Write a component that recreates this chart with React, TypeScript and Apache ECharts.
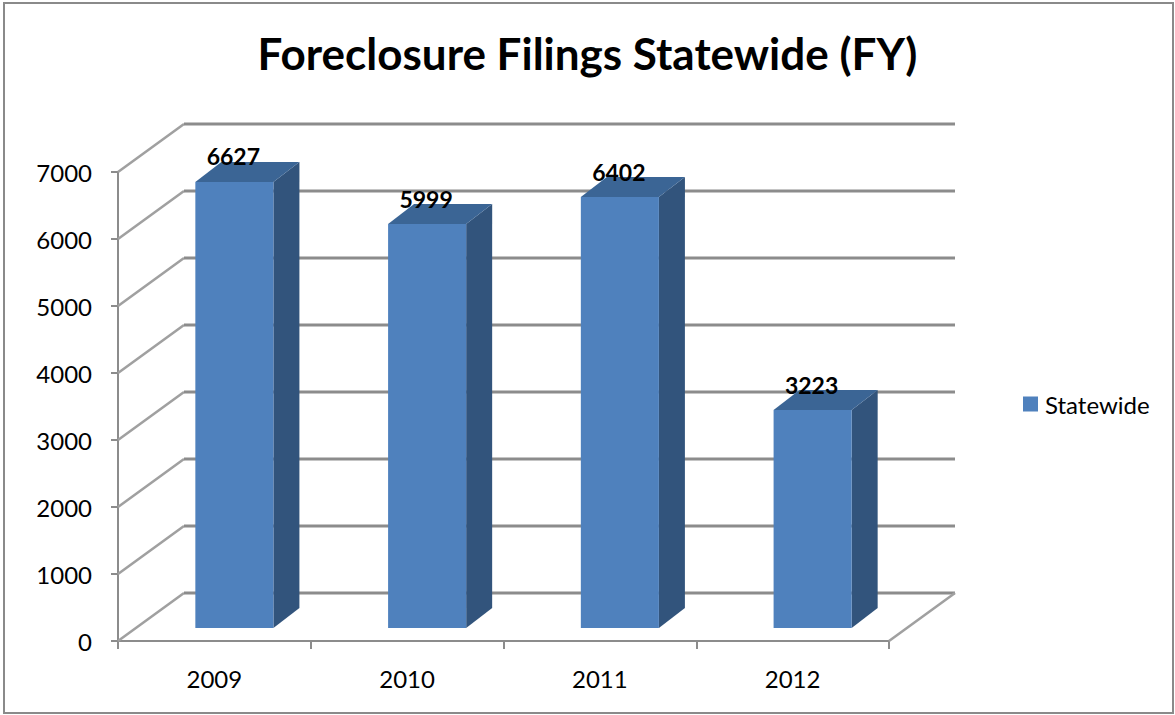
import React, { useEffect, useRef } from "react";
import * as echarts from "echarts";

const categories = ["2009", "2010", "2011", "2012"];
const values = [6627, 5999, 6402, 3223];
const yTicks = [0, 1000, 2000, 3000, 4000, 5000, 6000, 7000];
const seriesName = "Statewide";
const titleText = "Foreclosure Filings Statewide (FY)";

// 3D projection constants (layout only)
const DX = 66;
const DY = -48;
const BAR_OX = 20;
const BAR_OY = -13;
const SIDE_DX = 26;
const SIDE_DY = -20;
const FONT = "Lato, 'Open Sans', sans-serif";

export default function App() {
  const ref = useRef<HTMLDivElement>(null);
  useEffect(() => {
    if (!ref.current) return;
    const chart = echarts.init(ref.current, null, { renderer: "svg" });
    const option: any = {
      animation: false,
      backgroundColor: "#ffffff",
      title: {
        text: titleText,
        left: "center",
        top: 26,
        textStyle: { fontFamily: FONT, fontSize: 44, fontWeight: "bold", color: "#000" },
      },
      legend: {
        data: [seriesName],
        left: 1018,
        top: 387,
        icon: "rect",
        itemWidth: 15,
        itemHeight: 15,
        itemGap: 7,
        textStyle: { fontFamily: FONT, fontSize: 24, color: "#000", padding: [0, 0, 0, 2] },
      },
      graphic: [
        {
          type: "rect",
          shape: { x: 4, y: 3, width: 1169, height: 710 },
          style: { fill: "none", stroke: "#8a8a8a", lineWidth: 2 },
          silent: true,
          z: -10,
        },
      ],
      grid: { left: 118, top: 172, width: 771, height: 469 },
      xAxis: {
        type: "category",
        data: categories,
        boundaryGap: true,
        axisLine: { show: true, lineStyle: { color: "#8c8c8c", width: 2 } },
        axisTick: { show: true, length: 8, alignWithLabel: false, lineStyle: { color: "#8c8c8c", width: 2 } },
        axisLabel: { fontFamily: FONT, fontSize: 24, color: "#000", margin: 25 },
        splitLine: { show: false },
      },
      yAxis: {
        type: "value",
        min: 0,
        max: 7000,
        interval: 1000,
        axisLine: { show: true, lineStyle: { color: "#8c8c8c", width: 2 } },
        axisTick: { show: true, length: 7, lineStyle: { color: "#8c8c8c", width: 2 } },
        axisLabel: {
          fontFamily: FONT,
          fontSize: 24,
          color: "#000",
          margin: 26,
          formatter: (v: number) => String(v),
        },
        splitLine: { show: false },
      },
      series: [
        {
          type: "custom",
          name: "walls",
          clip: false,
          silent: true,
          z: 1,
          encode: { x: 0, y: 1 },
          data: yTicks.map((v) => [0, v]),
          renderItem: (params: any, api: any) => {
            const v = api.value(1);
            const cs = params.coordSys;
            const x0 = cs.x;
            const x1 = cs.x + cs.width;
            const y = api.coord([0, v])[1];
            const children: any[] = [
              {
                type: "line",
                shape: { x1: x0, y1: y, x2: x0 + DX, y2: y + DY },
                style: { stroke: "#a0a0a0", lineWidth: 2.5 },
              },
              {
                type: "line",
                shape: { x1: x0 + DX, y1: y + DY, x2: x1 + DX, y2: y + DY },
                style: { stroke: "#8c8c8c", lineWidth: 3 },
              },
            ];
            if (v === 0) {
              children.push({
                type: "line",
                shape: { x1: x1, y1: y, x2: x1 + DX, y2: y + DY },
                style: { stroke: "#a0a0a0", lineWidth: 2.5 },
              });
            }
            return { type: "group", children };
          },
        },
        {
          type: "custom",
          name: seriesName,
          clip: false,
          z: 2,
          itemStyle: { color: "#4f81bd" },
          encode: { x: 0, y: 1 },
          data: values.map((v, i) => [i, v]),
          renderItem: (params: any, api: any) => {
            const i = api.value(0);
            const v = api.value(1);
            const base = api.coord([i, 0]);
            const top = api.coord([i, v]);
            const bw = api.size([1, 0])[0] * 0.405;
            const cx = base[0] + BAR_OX;
            const fl = cx - bw / 2;
            const fr = cx + bw / 2;
            const yb = base[1] + BAR_OY;
            const yt = top[1] + BAR_OY - 2;
            return {
              type: "group",
              children: [
                {
                  type: "polygon",
                  shape: { points: [[fr, yt], [fr + SIDE_DX, yt + SIDE_DY], [fr + SIDE_DX, yb + SIDE_DY], [fr, yb]] },
                  style: { fill: "#32547c" },
                },
                {
                  type: "polygon",
                  shape: { points: [[fl, yt], [fl + SIDE_DX, yt + SIDE_DY], [fr + SIDE_DX, yt + SIDE_DY], [fr, yt]] },
                  style: { fill: "#3b6595" },
                },
                {
                  type: "rect",
                  shape: { x: fl, y: yt, width: bw, height: yb - yt },
                  style: { fill: "#4f81bd" },
                },
                {
                  type: "text",
                  x: cx - 1,
                  y: yt + SIDE_DY + 6,
                  style: {
                    text: String(v),
                    fontFamily: FONT,
                    fontSize: 23,
                    fontWeight: "bold",
                    fill: "#000",
                    align: "center",
                    verticalAlign: "bottom",
                  },
                },
              ],
            };
          },
        },
      ],
    };
    chart.setOption(option);
    return () => chart.dispose();
  }, []);
  return (
    <div
      ref={ref}
      style={{ position: "fixed", left: 0, top: 0, width: 1175, height: 715, background: "#fff" }}
    />
  );
}
